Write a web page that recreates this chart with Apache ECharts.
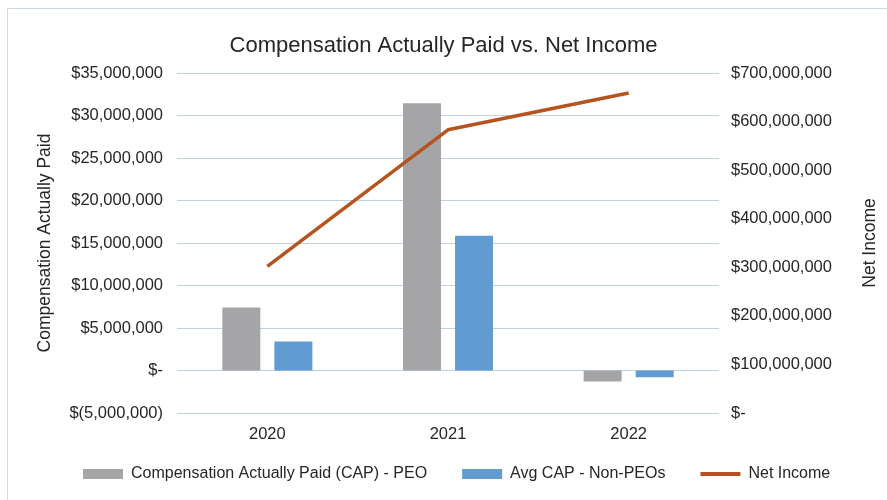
<!DOCTYPE html>
<html>
<head>
<meta charset="utf-8">
<script src="https://cdn.jsdelivr.net/npm/echarts@6/dist/echarts.min.js"></script>
<style>
html,body{margin:0;padding:0;background:#fff;}
#wrap{position:absolute;left:0;top:0;width:887px;height:500px;background:#fff;}
#frame{position:absolute;left:7px;top:8px;width:900px;height:520px;border-left:1px solid #c9dbe8;border-top:1px solid #c9dbe8;}
#main{position:absolute;left:0;top:0;width:887px;height:500px;}
</style>
</head>
<body>
<div id="wrap"><div id="frame"></div><div id="main"></div></div>
<script>
var categories = ['2020', '2021', '2022'];
var capPEO = [7400000, 31450000, -1300000];
var capNonPEO = [3400000, 15850000, -800000];
var netIncome = [302000000, 583000000, 659000000];
var seriesNames = ['Compensation Actually Paid (CAP) - PEO', 'Avg CAP - Non-PEOs', 'Net Income'];

function fmtMoney(v) {
  if (v === 0) return '$-';
  var s = Math.abs(v).toString().replace(/\B(?=(\d{3})+(?!\d))/g, ',');
  return v < 0 ? '$(' + s + ')' : '$' + s;
}

var FONT = '"Liberation Sans", Arial, sans-serif';
var TXT = '#262626';
var chart = echarts.init(document.getElementById('main'), null, {renderer: 'canvas'});
chart.setOption({
  animation: false,
  backgroundColor: 'transparent',
  title: {
    text: 'Compensation Actually Paid vs. Net Income',
    left: 'center',
    top: 30,
    textStyle: {fontFamily: FONT, fontSize: 22, fontWeight: 'normal', color: TXT}
  },
  legend: {
    left: 78,
    top: 461,
    itemWidth: 40,
    itemHeight: 10,
    itemGap: 35,
    textStyle: {fontFamily: FONT, fontSize: 16, color: TXT, padding: [0, 0, 0, 3]},
    data: [
      {name: seriesNames[0], icon: 'rect'},
      {name: seriesNames[1], icon: 'rect'},
      {name: seriesNames[2], icon: 'path://M0,0 L40,0 L40,3.8 L0,3.8 Z'}
    ]
  },
  grid: {left: 177, right: 162, top: 73, bottom: 87, containLabel: false},
  xAxis: {
    type: 'category',
    data: categories,
    axisLine: {show: false},
    axisTick: {show: false},
    axisLabel: {fontFamily: FONT, fontSize: 16.5, color: TXT, margin: 13}
  },
  yAxis: [
    {
      type: 'value',
      min: -5000000, max: 35000000, interval: 5000000,
      name: 'Compensation Actually Paid',
      nameLocation: 'middle',
      nameGap: 123,
      nameRotate: 90,
      nameTextStyle: {fontFamily: FONT, fontSize: 17.5, color: TXT},
      axisLine: {show: false},
      axisTick: {show: false},
      splitLine: {lineStyle: {color: '#b9d2e4', width: 1}},
      axisLabel: {fontFamily: FONT, fontSize: 16.5, color: TXT, margin: 14, formatter: fmtMoney}
    },
    {
      type: 'value',
      min: 0, max: 700000000, interval: 100000000,
      name: 'Net Income',
      nameLocation: 'middle',
      nameGap: 142,
      nameRotate: 90,
      nameTextStyle: {fontFamily: FONT, fontSize: 17.5, color: TXT},
      axisLine: {show: false},
      axisTick: {show: false},
      splitLine: {show: false},
      axisLabel: {fontFamily: FONT, fontSize: 16.5, color: TXT, margin: 12, formatter: fmtMoney}
    }
  ],
  series: [
    {
      name: seriesNames[0], type: 'bar', yAxisIndex: 0, data: capPEO,
      barWidth: 38, barGap: '37%',
      itemStyle: {color: '#a5a5a7'}
    },
    {
      name: seriesNames[1], type: 'bar', yAxisIndex: 0, data: capNonPEO,
      barWidth: 38, barGap: '37%',
      itemStyle: {color: '#629bd2'}
    },
    {
      name: seriesNames[2], type: 'line', yAxisIndex: 1, data: netIncome,
      symbol: 'none',
      lineStyle: {color: '#b5541f', width: 3.5},
      itemStyle: {color: '#b5541f'}
    }
  ]
});
</script>
</body>
</html>
